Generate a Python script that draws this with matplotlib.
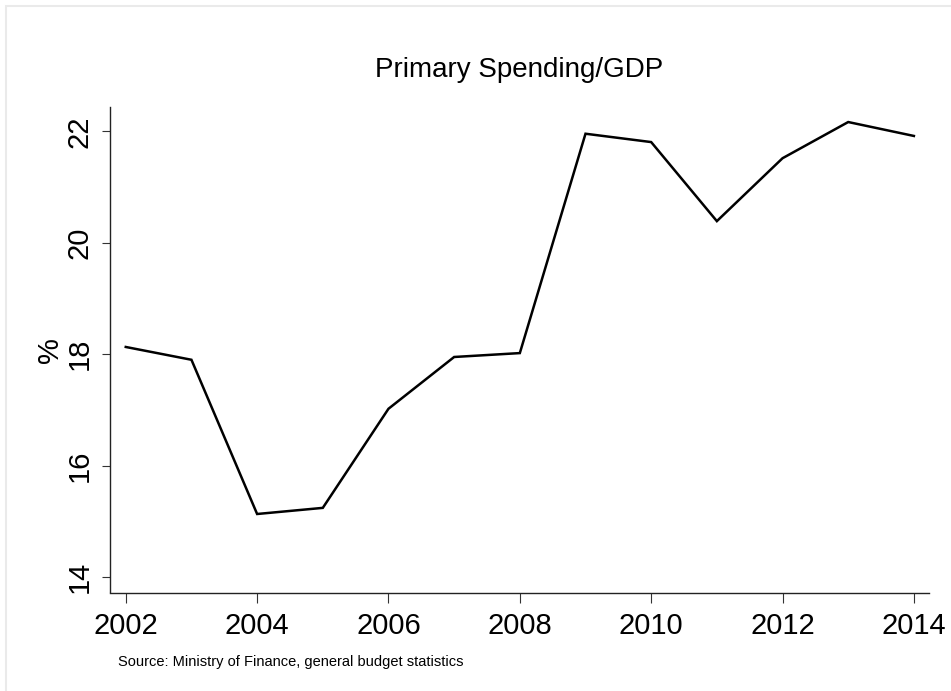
import matplotlib
matplotlib.use("Agg")
import matplotlib.pyplot as plt
from matplotlib.patches import Rectangle

# Primary spending as share of GDP
years = [2002, 2003, 2004, 2005, 2006, 2007, 2008, 2009, 2010, 2011, 2012, 2013, 2014]
spending_pct = [18.13, 17.90, 15.13, 15.24, 17.02, 17.95, 18.02, 21.96, 21.81, 20.39, 21.52, 22.17, 21.92]

x_ticks = [2002, 2004, 2006, 2008, 2010, 2012, 2014]
y_ticks = [14, 16, 18, 20, 22]

plt.rcParams['font.family'] = ['Liberation Sans', 'DejaVu Sans']

W, H = 951, 691
fig = plt.figure(figsize=(W / 100, H / 100), dpi=100)
ax = fig.add_axes([110 / W, 1 - 592.5 / H, (929 - 110) / W, (592.5 - 107) / H])

ax.plot(years, spending_pct, color='black', linewidth=1.8, solid_joinstyle='miter')

ax.set_xlim(2001.76, 2014.23)
ax.set_ylim(13.72, 22.44)
ax.set_xticks(x_ticks)
ax.set_yticks(y_ticks)
ax.tick_params(axis='x', labelsize=21, length=7, width=0.8, pad=7, color='#333333')
ax.tick_params(axis='y', labelsize=21, length=6, width=0.8, pad=6, color='#333333',
               labelrotation=90)
for lab in ax.get_yticklabels():
    lab.set_verticalalignment('center')

for side in ['top', 'right']:
    ax.spines[side].set_visible(False)
for side in ['left', 'bottom']:
    ax.spines[side].set_linewidth(1.0)
    ax.spines[side].set_color('#222222')

ax.set_ylabel('%', fontsize=21, labelpad=1)
fig.text(519.5 / W, 1 - 77 / H, 'Primary Spending/GDP', fontsize=20,
         ha='center', va='baseline')
fig.text(118 / W, 1 - 666 / H, 'Source: Ministry of Finance, general budget statistics',
         fontsize=10.5, ha='left', va='baseline')

# light outer frame of the graph region (cut by the image edge on right/bottom)
fig.patches.append(Rectangle((6.3 / W, -0.1), 1.2, 1.1 - 5.7 / H,
                             transform=fig.transFigure, fill=False,
                             edgecolor='#EAEAEA', linewidth=1.5))

fig.savefig('out.png', dpi=100, facecolor='white')
